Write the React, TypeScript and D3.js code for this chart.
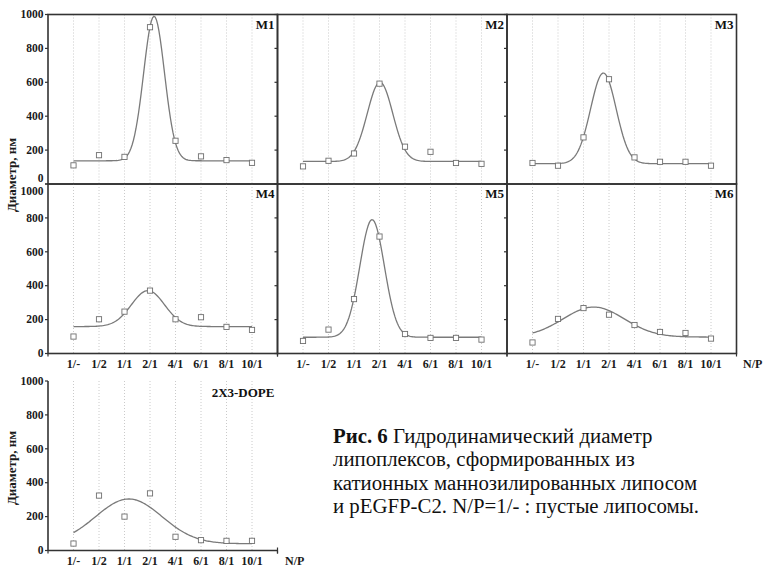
import React from "react";
import * as d3 from "d3";

// ---- data ----
const categories = ["1/-", "1/2", "1/1", "2/1", "4/1", "6/1", "8/1", "10/1"];
const yTicks = [0, 200, 400, 600, 800, 1000];

const m1Values = [110, 170, 160, 925, 255, 163, 141, 125];
const m2Values = [104, 137, 180, 592, 220, 190, 124, 119];
const m3Values = [124, 108, 275, 618, 157, 131, 131, 108];
const m4Values = [100, 202, 247, 371, 202, 214, 157, 139];
const m5Values = [74, 141, 321, 690, 115, 92, 92, 82];
const m6Values = [65, 204, 268, 229, 168, 127, 121, 88];
const dopeValues = [41, 324, 200, 337, 81, 61, 57, 57];

// Gaussian fit parameters: [baseline, amplitude, centre (category index), width]
const m1Fit = [137, 853, 3.16, 0.41];
const m2Fit = [133, 467, 3.02, 0.5];
const m3Fit = [120, 535, 2.78, 0.5];
const m4Fit = [159, 212, 2.92, 0.65];
const m5Fit = [96, 694, 2.71, 0.48];
const m6Fit = [97, 177, 2.4, 1.2];
const dopeFit = [40, 264, 2.17, 1.3];

const yTitle = "Диаметр, нм";
const xTitle = "N/P";
const captionBold = "Рис. 6";
const captionLines = [
  " Гидродинамический диаметр",
  "липоплексов, сформированных из",
  "катионных маннозилированных липосом",
  "и pEGFP-C2. N/P=1/- : пустые липосомы.",
];

const FONT = "'Liberation Serif', 'Times New Roman', serif";

export default function App() {
  const W = 763;
  const H = 567;
  const colLeft = [48, 277.5, 507];
  const rowTop = [14.5, 184, 381];
  const pw = 229.5;
  const ph = 169.5;

  const panels = [
    { name: "M1", values: m1Values, fit: m1Fit, col: 0, row: 0, box: true, xLabels: false },
    { name: "M2", values: m2Values, fit: m2Fit, col: 1, row: 0, box: true, xLabels: false },
    { name: "M3", values: m3Values, fit: m3Fit, col: 2, row: 0, box: true, xLabels: false },
    { name: "M4", values: m4Values, fit: m4Fit, col: 0, row: 1, box: true, xLabels: true },
    { name: "M5", values: m5Values, fit: m5Fit, col: 1, row: 1, box: true, xLabels: true },
    { name: "M6", values: m6Values, fit: m6Fit, col: 2, row: 1, box: true, xLabels: true },
    { name: "2X3-DOPE", values: dopeValues, fit: dopeFit, col: 0, row: 2, box: false, xLabels: true },
  ];

  const axisColor = "#333";
  const samples = d3.range(0, 7.0001, 0.05);

  return (
    <svg
      width={W}
      height={H}
      style={{ position: "absolute", left: 0, top: 0, background: "#fff" }}
      fontFamily={FONT}
    >
      <rect x={0} y={0} width={W} height={H} fill="#fff" />
      {panels.map((p) => {
        const left = colLeft[p.col];
        const top = rowTop[p.row];
        const x = d3.scaleLinear().domain([-1, 8]).range([left, left + pw]);
        const y = d3.scaleLinear().domain([0, 1000]).range([top + ph, top]);
        const [y0, A, xc, w] = p.fit;
        const fitFn = (t: number) => y0 + A * Math.exp(-((t - xc) * (t - xc)) / (2 * w * w));
        const line = d3
          .line<number>()
          .x((t) => x(t))
          .y((t) => y(fitFn(t)));
        const bottom = y(0);
        return (
          <g key={p.name}>
            {categories.map((c, i) => (
              <line
                key={c}
                x1={x(i)}
                x2={x(i)}
                y1={top}
                y2={bottom}
                stroke="#bdbdbd"
                strokeWidth={0.8}
                strokeDasharray="1,2"
              />
            ))}
            <path d={line(samples) || ""} fill="none" stroke="#7a7a7a" strokeWidth={1.3} />
            {p.values.map((v, i) => (
              <rect
                key={i}
                x={x(i) - 2.6}
                y={y(v) - 2.6}
                width={5.2}
                height={5.2}
                fill="#fff"
                stroke="#6f6f6f"
                strokeWidth={0.9}
              />
            ))}
            {p.box ? (
              <rect
                x={left}
                y={top}
                width={pw}
                height={ph}
                fill="none"
                stroke={axisColor}
                strokeWidth={1.6}
              />
            ) : (
              <g>
                <line x1={left} x2={left} y1={top} y2={bottom} stroke={axisColor} strokeWidth={1.6} />
                <line x1={left} x2={left + pw} y1={bottom} y2={bottom} stroke={axisColor} strokeWidth={1.6} />
                <line x1={left + pw} x2={left + pw} y1={bottom - 3} y2={bottom + 3} stroke={axisColor} strokeWidth={1.2} />
              </g>
            )}
            {p.xLabels && (
              <g>
                <line x1={left} x2={left} y1={bottom} y2={bottom + 3} stroke={axisColor} strokeWidth={1.2} />
                <line x1={left + pw} x2={left + pw} y1={bottom} y2={bottom + 3} stroke={axisColor} strokeWidth={1.2} />
              </g>
            )}
            {yTicks.map((t) => (
              <line
                key={t}
                x1={left - 3}
                x2={left}
                y1={y(t)}
                y2={y(t)}
                stroke={axisColor}
                strokeWidth={1.2}
              />
            ))}
            {p.col === 0 &&
              yTicks.map((t) => {
                let dy = 0;
                if (p.row === 0 && t === 0) dy = -6;
                if (p.row === 1 && t === 1000) dy = 7;
                return (
                  <text
                    key={t}
                    x={left - 4.5}
                    y={y(t) + dy}
                    dy="0.33em"
                    textAnchor="end"
                    fontSize={11.5}
                    fontWeight="bold"
                    fill="#1a1a1a"
                  >
                    {t}
                  </text>
                );
              })}
            {p.xLabels &&
              categories.map((c, i) => (
                <text
                  key={c}
                  x={x(i)}
                  y={bottom + 14}
                  textAnchor="middle"
                  fontSize={12}
                  fontWeight="bold"
                  fill="#1a1a1a"
                >
                  {c}
                </text>
              ))}
            <text
              x={left + pw - 3}
              y={top + (p.row === 2 ? 15.5 : 14)}
              textAnchor="end"
              fontSize={13}
              fontWeight="bold"
              fill="#111"
            >
              {p.name}
            </text>
          </g>
        );
      })}

      <text x={743} y={367.5} fontSize={12} fontWeight="bold" fill="#1a1a1a">
        {xTitle}
      </text>
      <text x={285} y={564.5} fontSize={12} fontWeight="bold" fill="#1a1a1a">
        {xTitle}
      </text>

      <text
        transform="translate(16,175) rotate(-90)"
        textAnchor="middle"
        fontSize={13}
        fontWeight="bold"
        fill="#1a1a1a"
      >
        {yTitle}
      </text>
      <text
        transform="translate(16,468) rotate(-90)"
        textAnchor="middle"
        fontSize={13}
        fontWeight="bold"
        fill="#1a1a1a"
      >
        {yTitle}
      </text>

      <text x={333} y={443} fontSize={20.8} fill="#111">
        <tspan fontWeight="bold">{captionBold}</tspan>
        <tspan>{captionLines[0]}</tspan>
      </text>
      {captionLines.slice(1).map((l, i) => (
        <text key={i} x={333} y={466.4 + i * 23.4} fontSize={20.8} fill="#111">
          {l}
        </text>
      ))}
    </svg>
  );
}
